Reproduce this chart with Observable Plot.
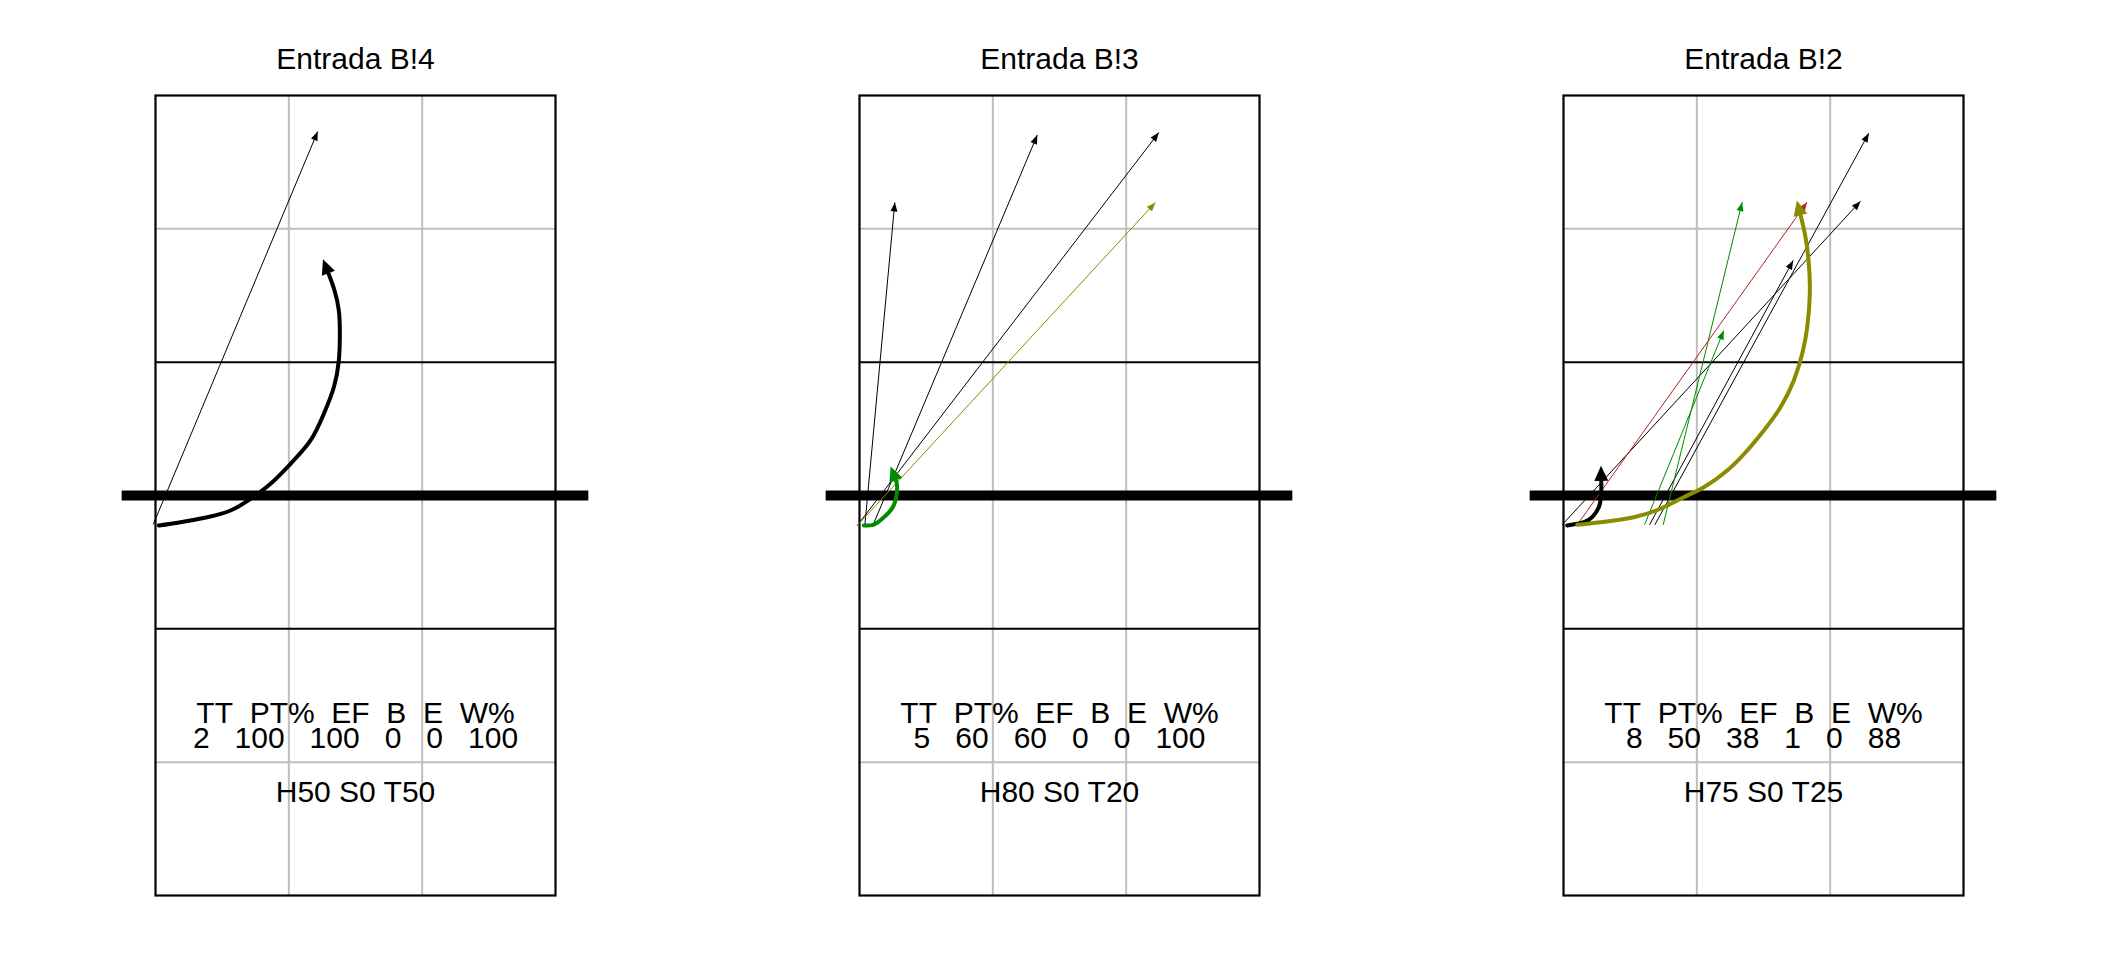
<!DOCTYPE html>
<html><head><meta charset="utf-8">
<script src="https://cdn.jsdelivr.net/npm/d3@7"></script>
<script src="https://cdn.jsdelivr.net/npm/@observablehq/plot@0.6"></script>
<style>
html,body{margin:0;padding:0;background:#fff;overflow:hidden}
#chart{display:flex;width:2112px;height:960px}
#chart svg{flex:none}
</style></head><body><div id="chart"></div>
<script>
// ---- data ----
const panelTitles = ["Entrada B!4", "Entrada B!3", "Entrada B!2"];
const statHeaders = ["TT", "PT%", "EF", "B", "E", "W%"];
const statsB4 = [2, 100, 100, 0, 0, 100];
const statsB3 = [5, 60, 60, 0, 0, 100];
const statsB2 = [8, 50, 38, 1, 0, 88];
const zoneMix = ["H50 S0 T50", "H80 S0 T20", "H75 S0 T25"];

// outcome codes -> colours
const outcomeCodes = ["continue", "kill", "blocked", "covered"];
const outcomeColors = ["#000000", "#008B00", "#B22222", "#8B8B00"];

// court lines (metres): x 0..9 across, y 0 = net, +9 = far end line
const courtX = [0, 9];
const courtY = [-9, 9];
const greyLinesX = [3, 6];
const greyLinesY = [-6, 6];
const attackLinesY = [-3, 3];
const netExtent = [-0.75, 9.75];

// straight attacks: start (x1,y1) -> end (x2,y2)
const straightB4 = [
  {x1: -0.05, y1: -0.65, x2: 3.65, y2: 8.19, code: "continue"}
];
const straightB3 = [
  {x1: 0.12, y1: -0.675, x2: 0.795, y2: 6.595, code: "continue"},
  {x1: 0.30, y1: -0.675, x2: 4.00, y2: 8.11, code: "continue"},
  {x1: -0.05, y1: -0.675, x2: 6.735, y2: 8.165, code: "continue"},
  {x1: -0.05, y1: -0.675, x2: 6.66, y2: 6.595, code: "covered"}
];
const straightB2 = [
  {x1: 2.055, y1: -0.66, x2: 6.87, y2: 8.15, code: "continue"},
  {x1: -0.03, y1: -0.66, x2: 6.683, y2: 6.62, code: "continue"},
  {x1: 1.935, y1: -0.66, x2: 5.168, y2: 5.29, code: "continue"},
  {x1: 2.243, y1: -0.66, x2: 4.02, y2: 6.60, code: "kill"},
  {x1: 1.823, y1: -0.66, x2: 3.607, y2: 3.71, code: "kill"},
  {x1: 0.308, y1: -0.66, x2: 5.48, y2: 6.60, code: "blocked"}
];

// curved attacks: points along the path (ends at the arrow-head base)
const curveB4a = [[0.075,-0.675],[0.563,-0.601],[1.163,-0.488],[1.688,-0.338],[2.138,-0.075],[2.588,0.263],[3.038,0.713],[3.488,1.238],[3.788,1.838],[4.013,2.437],[4.125,3.038],[4.148,3.638],[4.125,4.163],[4.028,4.613],[3.89,5.0]];
const curveB3a = [[0.097,-0.675],[0.322,-0.653],[0.51,-0.525],[0.698,-0.338],[0.81,-0.113],[0.848,0.187],[0.82,0.34]];
const curveB2a = [[0.083,-0.675],[0.457,-0.601],[0.646,-0.488],[0.794,-0.263],[0.848,0.038],[0.85,0.33]];
const curveB2b = [[0.308,-0.659],[0.833,-0.601],[1.582,-0.488],[2.183,-0.299],[2.707,-0.038],[3.157,0.187],[3.684,0.563],[4.134,1.013],[4.507,1.463],[4.883,1.987],[5.182,2.588],[5.371,3.189],[5.484,3.787],[5.542,4.539],[5.52,5.214],[5.445,5.812],[5.333,6.309]];

const panelStats = [statsB4, statsB3, statsB2];
const panelStraight = [straightB4, straightB3, straightB2];
const panelCurves = [
  [{code: "continue", pts: curveB4a}],
  [{code: "kill", pts: curveB3a}],
  [{code: "continue", pts: curveB2a}, {code: "covered", pts: curveB2b}]
];

// ---- filled triangle arrow-head markers ----
function triangleMarker(len, wid, tipAtEnd) {
  return (color, context) => {
    const doc = (context && context.document) || document;
    const ns = "http://www.w3.org/2000/svg";
    const m = doc.createElementNS(ns, "marker");
    const x0 = tipAtEnd ? -len : 0;
    m.setAttribute("viewBox", `${x0} ${-wid / 2} ${len} ${wid}`);
    m.setAttribute("markerWidth", len);
    m.setAttribute("markerHeight", wid);
    m.setAttribute("markerUnits", "userSpaceOnUse");
    m.setAttribute("refX", 0);
    m.setAttribute("refY", 0);
    m.setAttribute("orient", "auto");
    m.setAttribute("overflow", "visible");
    const p = doc.createElementNS(ns, "path");
    p.setAttribute("d", tipAtEnd
      ? `M${-len},${-wid / 2}L0,0L${-len},${wid / 2}Z`
      : `M0,${-wid / 2}L${len},0L0,${wid / 2}Z`);
    p.setAttribute("fill", color);
    p.setAttribute("stroke", "none");
    m.appendChild(p);
    return m;
  };
}
const smallHead = triangleMarker(9, 7, true);
const bigHead = triangleMarker(15, 14, false);

const nb = "\u00a0";
const font = "'Liberation Sans', Arial, Helvetica, sans-serif";

function panel(i) {
  const curvePts = panelCurves[i].flatMap((c, k) =>
    c.pts.map(([x, y]) => ({x, y, id: k, code: c.code})));
  const statBlock = statHeaders.join(nb + nb) + "\n" + panelStats[i].join(nb + nb + nb);
  return Plot.plot({
    width: 704,
    height: 960,
    marginTop: 95,
    marginBottom: 65,
    marginLeft: 155,
    marginRight: 149,
    x: {domain: courtX, axis: null},
    y: {domain: courtY, axis: null},
    color: {domain: outcomeCodes, range: outcomeColors},
    style: {fontFamily: font, background: "white", overflow: "visible"},
    marks: [
      Plot.ruleX(greyLinesX, {stroke: "#BEBEBE", strokeWidth: 2}),
      Plot.ruleY(greyLinesY, {stroke: "#BEBEBE", strokeWidth: 2}),
      Plot.ruleY(attackLinesY, {stroke: "black", strokeWidth: 2}),
      Plot.frame({stroke: "black", strokeWidth: 2.2}),
      Plot.ruleY([0], {x1: netExtent[0], x2: netExtent[1], stroke: "black", strokeWidth: 10}),
      Plot.link(panelStraight[i], {
        x1: "x1", y1: "y1", x2: "x2", y2: "y2",
        stroke: "code", strokeWidth: 1, strokeLinecap: "butt",
        markerEnd: smallHead
      }),
      Plot.line(curvePts, {
        x: "x", y: "y", z: "id", stroke: "code",
        strokeWidth: 4, curve: "natural",
        markerEnd: bigHead
      }),
      Plot.text([panelTitles[i]], {
        text: d => d, frameAnchor: "top", lineAnchor: "bottom", dy: -27,
        fontSize: 30, fill: "black"
      }),
      Plot.text([statBlock], {
        text: d => d, frameAnchor: "bottom", lineAnchor: "bottom", dy: -148,
        lineHeight: 25 / 30, fontSize: 30, fill: "black"
      }),
      Plot.text([zoneMix[i]], {
        text: d => d, frameAnchor: "bottom", lineAnchor: "bottom", dy: -94,
        fontSize: 30, fill: "black"
      })
    ]
  });
}

const chart = document.getElementById("chart");
for (let i = 0; i < 3; ++i) chart.appendChild(panel(i));
</script></body></html>
